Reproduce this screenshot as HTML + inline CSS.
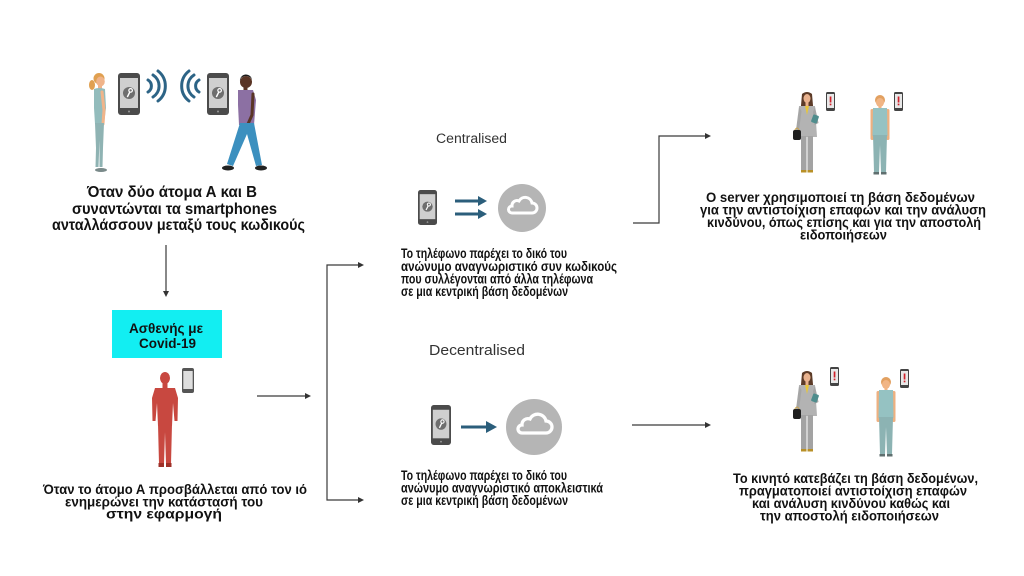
<!DOCTYPE html>
<html><head><meta charset="utf-8"><style>
html,body{margin:0;padding:0;background:#fff;}
svg{display:block;}
.b{font-family:"Liberation Sans","DejaVu Sans",sans-serif;font-weight:bold;fill:#111;}
.r{font-family:"Liberation Sans","DejaVu Sans",sans-serif;fill:#333;}
</style></head><body>
<svg width="1024" height="576" viewBox="0 0 1024 576" xmlns="http://www.w3.org/2000/svg">
<defs>
  <g id="kphone">
    <rect x="0" y="0" width="22" height="42" rx="3" fill="#4b4b4b"/>
    <rect x="2" y="5" width="18" height="30" fill="#cfcfcf"/>
    <circle cx="11" cy="20" r="6" fill="#6e6e6e"/>
    <circle cx="12.6" cy="17.4" r="1.8" fill="none" stroke="#fff" stroke-width="1.2"/>
    <line x1="11.8" y1="19" x2="9.3" y2="24" stroke="#fff" stroke-width="1.4"/>
    <circle cx="11" cy="38.5" r="1" fill="#999"/>
  </g>
  <g id="aphone">
    <rect x="0" y="0" width="9" height="19" rx="1.5" fill="#444"/>
    <rect x="1" y="2" width="7" height="14" fill="#e8e8e8"/>
    <rect x="3.7" y="4.5" width="1.7" height="6" fill="#d0202a"/>
    <rect x="3.7" y="11.6" width="1.7" height="1.7" fill="#d0202a"/>
  </g>
  <g id="suit">
    <path d="M9 2 Q14 -2 19 2 L21 25 L7 25 Z" fill="#5c3b28"/>
    <ellipse cx="14" cy="6.5" rx="3.5" ry="4.5" fill="#e9b28e"/>
    <rect x="12.5" y="10" width="3" height="5" fill="#e9b28e"/>
    <path d="M6 14 L22 14 L24 45 L5 45 Z" fill="#b3b3b3"/>
    <path d="M12 14 L16 14 L14 23 Z" fill="#e8c63a"/>
    <path d="M6 15 L3 38 L6 39 L8.5 19 Z" fill="#a5a5a5"/>
    <path d="M22 15 L25.5 31 L21.5 33 L20 20 Z" fill="#a5a5a5"/>
    <rect x="19" y="23" width="6" height="8" rx="1" fill="#4f8d8d" transform="rotate(20 22 27)"/>
    <path d="M1.5 39 Q4 33 6.5 39" fill="none" stroke="#c9a24a" stroke-width="1"/>
    <rect x="0" y="38" width="8" height="10" rx="2" fill="#1f1f1f"/>
    <rect x="8" y="44" width="5.5" height="34" fill="#a3a3a3"/>
    <rect x="14.5" y="44" width="5.5" height="34" fill="#a3a3a3"/>
    <rect x="8" y="78" width="5.5" height="2.5" fill="#b89028"/>
    <rect x="14.5" y="78" width="5.5" height="2.5" fill="#b89028"/>
  </g>
  <g id="casual">
    <circle cx="11" cy="5" r="5" fill="#e2a060"/>
    <ellipse cx="11" cy="7.5" rx="4" ry="4.5" fill="#f1b585"/>
    <rect x="9.5" y="10" width="3" height="4" fill="#f1b585"/>
    <rect x="1.5" y="14" width="3.5" height="31" rx="1.5" fill="#eeb080"/>
    <rect x="17" y="14" width="3.5" height="31" rx="1.5" fill="#eeb080"/>
    <path d="M4 13 L18 13 L18.5 41 L3.5 41 Z" fill="#95c2c2"/>
    <path d="M4 40 L18 40 L17 77 L12 77 L11 50 L10 77 L5 77 Z" fill="#8cb3b3"/>
    <rect x="4.5" y="77" width="5.5" height="2.5" fill="#5f6f6f"/>
    <rect x="12" y="77" width="5.5" height="2.5" fill="#5f6f6f"/>
  </g>
</defs>

<!-- Top-left woman -->
<ellipse cx="92" cy="85" rx="3" ry="5" fill="#e0a050"/>
<circle cx="99" cy="78.5" r="5.5" fill="#e0a050"/>
<ellipse cx="100.5" cy="81.5" rx="4.3" ry="5" fill="#f0b48a"/>
<rect x="98" y="85" width="4" height="5" fill="#f0b48a"/>
<path d="M94 89 Q99 87 105 89 L106 108 L104 124 L95 124 L94 108 Z" fill="#93bcbc"/>
<path d="M102 92 L104 110 L103 124" fill="none" stroke="#f0b48a" stroke-width="3" stroke-linecap="round"/>
<path d="M95 123 L104 123 L103 148 L102.5 167 L99.5 167 L99.5 140 L98.5 167 L95.5 167 L96 148 Z" fill="#8fb3b3"/>
<ellipse cx="101" cy="170" rx="6" ry="2" fill="#7a8a8a"/>

<!-- Phones & waves top-left -->
<use href="#kphone" x="118" y="73"/>
<use href="#kphone" x="207" y="73"/>
<g fill="none" stroke="#2d6486" stroke-width="3" stroke-linecap="round">
  <path d="M148 80 A7 7 0 0 1 148 92"/>
  <path d="M153 75 A13 13 0 0 1 153 97"/>
  <path d="M158 71 A19 19 0 0 1 158 101"/>
  <path d="M199 80 A7 7 0 0 0 199 92"/>
  <path d="M194 75 A13 13 0 0 0 194 97"/>
  <path d="M189 71 A19 19 0 0 0 189 101"/>
</g>

<!-- Man -->
<circle cx="246" cy="82" r="6" fill="#5a3525"/>
<path d="M240 81 A6 6 0 0 1 252 80 L251 78 Q246 74 241 78 Z" fill="#1a1a1a"/>
<rect x="243.5" y="86" width="4" height="5" fill="#5a3525"/>
<path d="M238 90 L253 90 L256 100 L254 125 L239 125 L238 105 Z" fill="#8c70a3"/>
<path d="M253 94 L252 115 L248 124" fill="none" stroke="#5a3525" stroke-width="3" stroke-linecap="round"/>
<path d="M240 123 L254 123 L262 165 L256 166 L247 134 L233 166 L227 164 Z" fill="#3c90bf"/>
<ellipse cx="228" cy="168" rx="6" ry="2.5" fill="#222"/>
<ellipse cx="261" cy="168" rx="6" ry="2.5" fill="#222"/>

<!-- Top-left text -->
<text class="b" font-size="15.5" x="87" y="197" textLength="170" lengthAdjust="spacingAndGlyphs">Όταν δύο άτομα Α και Β</text>
<text class="b" font-size="15.5" x="72" y="214" textLength="205" lengthAdjust="spacingAndGlyphs">συναντώνται τα smartphones</text>
<text class="b" font-size="15.5" x="52" y="230" textLength="253" lengthAdjust="spacingAndGlyphs">ανταλλάσσουν μεταξύ τους κωδικούς</text>

<!-- Connectors -->
<g stroke="#3a3a3a" stroke-width="1.2" fill="none">
  <line x1="166" y1="245" x2="166" y2="292"/>
  <line x1="257" y1="396" x2="306" y2="396"/>
  <polyline points="359,265 327,265 327,500 359,500"/>
  <polyline points="633,223 659,223 659,136 706,136"/>
  <line x1="632" y1="425" x2="706" y2="425"/>
</g>
<g fill="#333">
  <polygon points="163,291 169,291 166,297"/>
  <polygon points="305,393 305,399 311,396"/>
  <polygon points="358,262 358,268 364,265"/>
  <polygon points="358,497 358,503 364,500"/>
  <polygon points="705,133 705,139 711,136"/>
  <polygon points="705,422 705,428 711,425"/>
</g>

<!-- Cyan box -->
<rect x="112" y="310" width="110" height="48" fill="#12eef2"/>
<text class="b" font-size="13.5" x="129" y="333" textLength="74" lengthAdjust="spacingAndGlyphs">Ασθενής με</text>
<text class="b" font-size="13.5" x="139" y="348" textLength="57" lengthAdjust="spacingAndGlyphs">Covid-19</text>

<!-- Red figure -->
<g fill="#c84840">
  <ellipse cx="165" cy="378" rx="5" ry="6"/>
  <rect x="162.5" y="383" width="5" height="5"/>
  <path d="M155 388 L175 388 L178 398 L177.5 421 L174.5 421 L173 403 L172 426 L158 426 L157 403 L155.5 421 L152.5 421 L152 398 Z"/>
  <path d="M158 424 L172 424 L171 464 L166 464 L165 432 L164 464 L159 464 Z"/>
  <rect x="158.5" y="463" width="5.5" height="4" fill="#9e3028"/>
  <rect x="166" y="463" width="5.5" height="4" fill="#9e3028"/>
</g>
<rect x="182" y="368" width="12" height="25" rx="2" fill="#555"/>
<rect x="183.3" y="371" width="9.4" height="18" fill="#dedede"/>

<!-- Bottom-left text -->
<text class="b" font-size="13.5" x="43" y="494" textLength="264" lengthAdjust="spacingAndGlyphs">Όταν το άτομο Α προσβάλλεται από τον ιό</text>
<text class="b" font-size="13.5" x="65" y="506.5" textLength="198" lengthAdjust="spacingAndGlyphs">ενημερώνει την κατάστασή του</text>
<text class="b" font-size="13.5" x="106" y="518.5" textLength="116" lengthAdjust="spacingAndGlyphs">στην εφαρμογή</text>

<!-- Centralised -->
<text class="r" font-size="13.5" x="436" y="143" textLength="71" lengthAdjust="spacingAndGlyphs">Centralised</text>
<use href="#kphone" transform="translate(418 190) scale(0.864 0.833)"/>
<g stroke="#2b5e7b" stroke-width="3">
  <line x1="455" y1="201" x2="480" y2="201"/>
  <line x1="455" y1="214" x2="480" y2="214"/>
</g>
<g fill="#2b5e7b">
  <polygon points="478,196 487,201 478,206"/>
  <polygon points="478,209 487,214 478,219"/>
</g>
<circle cx="522" cy="208" r="24" fill="#b5b5b5"/>
<path d="M512 214 H532 A5 5 0 0 0 532 204 A7 7 0 0 0 519 202 A5 5 0 0 0 512 207 A3.5 3.5 0 0 0 512 214 Z" fill="none" stroke="#fff" stroke-width="3" transform="translate(0 -1)"/>

<text class="b" font-size="13.5" x="401" y="258" textLength="166" lengthAdjust="spacingAndGlyphs">Το τηλέφωνο παρέχει το δικό του</text>
<text class="b" font-size="13.5" x="401" y="271" textLength="216" lengthAdjust="spacingAndGlyphs">ανώνυμο αναγνωριστικό συν κωδικούς</text>
<text class="b" font-size="13.5" x="401" y="283.5" textLength="192" lengthAdjust="spacingAndGlyphs">που συλλέγονται από άλλα τηλέφωνα</text>
<text class="b" font-size="13.5" x="401" y="296" textLength="167" lengthAdjust="spacingAndGlyphs">σε μια κεντρική βάση δεδομένων</text>

<!-- Decentralised -->
<text class="r" font-size="15" x="429" y="355" textLength="96" lengthAdjust="spacingAndGlyphs">Decentralised</text>
<use href="#kphone" transform="translate(431 405) scale(0.909 0.952)"/>
<line x1="461" y1="427" x2="488" y2="427" stroke="#2b5e7b" stroke-width="3"/>
<polygon points="486,421 497,427 486,433" fill="#2b5e7b"/>
<circle cx="534" cy="427" r="28" fill="#b5b5b5"/>
<path d="M522 434 H546 A6 6 0 0 0 546 422 A8.5 8.5 0 0 0 530 420 A6 6 0 0 0 522 426 A4 4 0 0 0 522 434 Z" fill="none" stroke="#fff" stroke-width="3.3" transform="translate(0 -1)"/>

<text class="b" font-size="13.5" x="401" y="480" textLength="166" lengthAdjust="spacingAndGlyphs">Το τηλέφωνο παρέχει το δικό του</text>
<text class="b" font-size="13.5" x="401" y="492.5" textLength="202" lengthAdjust="spacingAndGlyphs">ανώνυμο αναγνωριστικό αποκλειστικά</text>
<text class="b" font-size="13.5" x="401" y="505" textLength="167" lengthAdjust="spacingAndGlyphs">σε μια κεντρική βάση δεδομένων</text>

<!-- Right top figures -->
<use href="#suit" x="793" y="92"/>
<use href="#aphone" x="826" y="92"/>
<use href="#casual" x="869" y="95"/>
<use href="#aphone" x="894" y="92"/>

<text class="b" font-size="13.5" x="706" y="202" textLength="269" lengthAdjust="spacingAndGlyphs">Ο server χρησιμοποιεί τη βάση δεδομένων</text>
<text class="b" font-size="13.5" x="700" y="214.5" textLength="286" lengthAdjust="spacingAndGlyphs">για την αντιστοίχιση επαφών και την ανάλυση</text>
<text class="b" font-size="13.5" x="707" y="227" textLength="274" lengthAdjust="spacingAndGlyphs">κινδύνου, όπως επίσης και για την αποστολή</text>
<text class="b" font-size="13.5" x="800" y="239.5" textLength="87" lengthAdjust="spacingAndGlyphs">ειδοποιήσεων</text>

<!-- Right bottom figures -->
<use href="#suit" x="793" y="371"/>
<use href="#aphone" x="830" y="367"/>
<use href="#casual" x="875" y="377"/>
<use href="#aphone" x="900" y="369"/>

<text class="b" font-size="13.5" x="733" y="483" textLength="245" lengthAdjust="spacingAndGlyphs">Το κινητό κατεβάζει τη βάση δεδομένων,</text>
<text class="b" font-size="13.5" x="739" y="495.5" textLength="228" lengthAdjust="spacingAndGlyphs">πραγματοποιεί αντιστοίχιση επαφών</text>
<text class="b" font-size="13.5" x="752" y="508" textLength="198" lengthAdjust="spacingAndGlyphs">και ανάλυση κινδύνου καθώς και</text>
<text class="b" font-size="13.5" x="760" y="520.5" textLength="179" lengthAdjust="spacingAndGlyphs">την αποστολή ειδοποιήσεων</text>
</svg>
</body></html>
